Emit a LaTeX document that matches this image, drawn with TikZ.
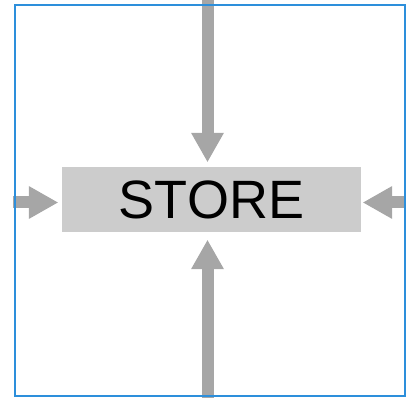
\documentclass[tikz,border=0pt]{standalone}
\usepackage{fontspec}
\setmainfont{Liberation Sans}
\usetikzlibrary{arrows.meta}
\definecolor{framec}{RGB}{45,143,219}
\definecolor{arrc}{RGB}{166,166,166}
\definecolor{boxc}{RGB}{204,204,204}
\tikzset{
  storebox/.style={fill=boxc, draw=none, minimum width=299pt, minimum height=65pt, inner sep=0pt, font=\fontsize{54}{60}\selectfont},
  flowarrow/.style={draw=arrc, line width=12pt, -{Triangle[width=33pt,length=29pt,line width=0pt,fill=arrc]}}
}
\begin{document}
\begin{tikzpicture}[x=1pt,y=1pt]
\useasboundingbox (0,0) rectangle (410,-398);
\node[storebox] (store) at (211.5,-199.5) {STORE};
\coordinate (T) at (207.5,0);
\coordinate (B) at (207.5,-398);
\coordinate (L) at (13,-202.5);
\coordinate (R) at (404,-202.5);
\draw[flowarrow, shorten >=5pt] (T) -- (T |- store.north);
\draw[flowarrow, shorten >=8pt] (B) -- (B |- store.south);
\draw[flowarrow, shorten >=4pt] (L) -- (L -| store.west);
\draw[flowarrow, shorten >=2pt] (R) -- (R -| store.east);
\draw[framec, line width=1.3pt] (15,-5) rectangle (405,-396);
\end{tikzpicture}
\end{document}
